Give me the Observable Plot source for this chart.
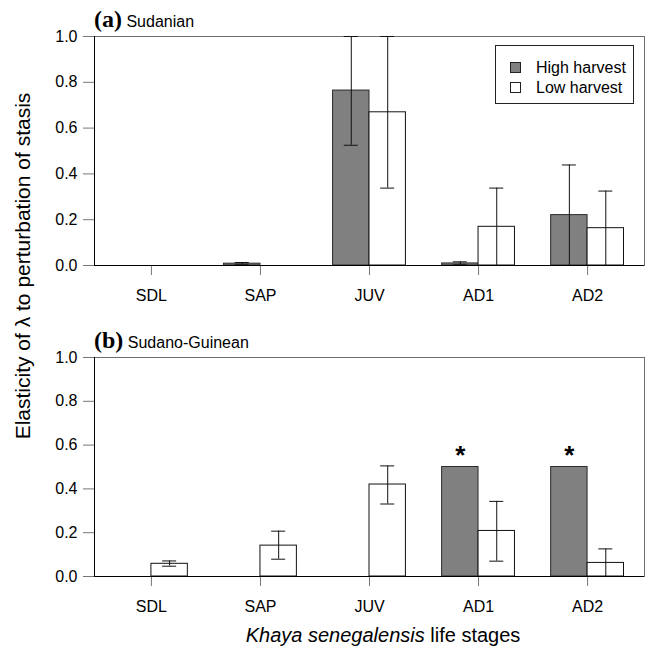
<!DOCTYPE html>
<html>
<head>
<meta charset="utf-8">
<script src="https://cdn.jsdelivr.net/npm/d3@7"></script>
<script src="https://cdn.jsdelivr.net/npm/@observablehq/plot@0.6"></script>
<style>
  html, body { margin: 0; padding: 0; background: white; }
  #root { position: relative; width: 647px; height: 648px; font-family: "Liberation Sans", Arial, sans-serif; color: black; overflow: hidden; }
  .panel { position: absolute; left: 0; }
  .ptitle { position: absolute; left: 94px; white-space: nowrap; line-height: 1; }
  .ptitle b { font-family: "Liberation Serif", "Times New Roman", serif; font-size: 24px; }
  .ptitle span { font-size: 16px; }
  .legend { position: absolute; left: 495px; top: 45px; width: 139px; height: 59px; border: 1px solid #222; background: white; box-sizing: border-box; font-size: 16px; }
  .legend .row { position: absolute; left: 14px; white-space: nowrap; line-height: 1; }
  .legend .sw { display: inline-block; width: 11px; height: 11px; border: 1px solid #222; box-sizing: border-box; margin-right: 15px; vertical-align: 0px; }
  .ylab { position: absolute; white-space: nowrap; font-size: 21px; transform: translate(-50%, -50%) rotate(-90deg); }
  .xlab { position: absolute; white-space: nowrap; font-size: 20px; transform: translateX(-50%); line-height: 1; }
</style>
</head>
<body>
<div id="root"></div>
<script>
// ---- data ----
const stages = ["SDL", "SAP", "JUV", "AD1", "AD2"];
const groups = ["High harvest", "Low harvest"];
const yTicks = [0, 0.2, 0.4, 0.6, 0.8, 1.0];

// (a) Sudanian
const aHigh   = [0, 0.008, 0.764, 0.009, 0.220];
const aHighLo = [null, 0.003, 0.525, 0.003, 0];
const aHighHi = [null, 0.013, 1.0, 0.016, 0.439];
const aLow    = [0, 0, 0.669, 0.169, 0.163];
const aLowLo  = [null, null, 0.338, 0, 0];
const aLowHi  = [null, null, 1.0, 0.338, 0.325];
const aStars  = [];

// (b) Sudano-Guinean
const bHigh   = [0, 0, 0, 0.5, 0.5];
const bHighLo = [null, null, null, null, null];
const bHighHi = [null, null, null, null, null];
const bLow    = [0.058, 0.141, 0.420, 0.208, 0.062];
const bLowLo  = [0.047, 0.079, 0.331, 0.070, 0];
const bLowHi  = [0.071, 0.207, 0.505, 0.343, 0.126];
const bStars  = ["AD1", "AD2"];

// ---- layout ----
const W = 647, ML = 94, MR = 3;
const PI = 0.332, PO = 0.188;
const bw = d3.scaleBand().domain(stages).range([ML, W - MR]).paddingInner(PI).paddingOuter(PO).bandwidth();
const capHalf = 7;

function rows(vals, lo, hi) {
  return stages.map((s, i) => ({stage: s, value: vals[i], lo: lo[i], hi: hi[i]}));
}

function panel({high, highLo, highHi, low, lowLo, lowHi, stars, height, marginTop, marginBottom}) {
  const rH = rows(high, highLo, highHi);
  const rL = rows(low, lowLo, lowHi);
  const eH = rH.filter(d => d.lo != null);
  const eL = rL.filter(d => d.lo != null);
  const sH = rH.filter(d => stars.includes(d.stage));
  return Plot.plot({
    width: W, height, marginTop, marginBottom, marginLeft: ML, marginRight: MR,
    style: {fontFamily: "'Liberation Sans', Arial, sans-serif", fontSize: "16px", color: "black", background: "transparent", overflow: "visible"},
    x: {type: "band", domain: stages, paddingInner: PI, paddingOuter: PO, round: false},
    y: {domain: [0, 1]},
    marks: [
      Plot.frame({stroke: "#6e6e6e"}),
      Plot.barY(rH, {x: "stage", y: "value", fill: "#808080", stroke: "#2a2a2a", insetRight: bw / 2}),
      Plot.barY(rL, {x: "stage", y: "value", fill: "white", stroke: "#111", insetLeft: bw / 2}),
      Plot.ruleX(eH, {x: "stage", y1: "lo", y2: "hi", dx: -bw / 4, stroke: "#111"}),
      Plot.tickY(eH, {x: "stage", y: "lo", insetLeft: bw / 4 - capHalf, insetRight: 3 * bw / 4 - capHalf, stroke: "#111"}),
      Plot.tickY(eH, {x: "stage", y: "hi", insetLeft: bw / 4 - capHalf, insetRight: 3 * bw / 4 - capHalf, stroke: "#111"}),
      Plot.ruleX(eL, {x: "stage", y1: "lo", y2: "hi", dx: bw / 4, stroke: "#111"}),
      Plot.tickY(eL, {x: "stage", y: "lo", insetLeft: 3 * bw / 4 - capHalf, insetRight: bw / 4 - capHalf, stroke: "#111"}),
      Plot.tickY(eL, {x: "stage", y: "hi", insetLeft: 3 * bw / 4 - capHalf, insetRight: bw / 4 - capHalf, stroke: "#111"}),
      Plot.text(sH, {x: "stage", y: "value", text: () => "*", dx: -bw / 4, dy: -11, fontSize: 26, fontWeight: "bold", fill: "black"}),
      Plot.axisX({tickSize: 10, tickPadding: 14, stroke: "#777", fill: "black", label: null}),
      Plot.axisY({ticks: yTicks, tickSize: 11, tickPadding: 6, tickFormat: d3.format(".1f"), stroke: "#777", fill: "black", label: null}),
      Plot.ruleY([0], {stroke: "black"}),
      Plot.frame({anchor: "left", stroke: "black"})
    ]
  });
}

const root = document.getElementById("root");

const pa = panel({high: aHigh, highLo: aHighLo, highHi: aHighHi, low: aLow, lowLo: aLowLo, lowHi: aLowHi, stars: aStars,
  height: 320, marginTop: 36, marginBottom: 55});
pa.classList.add("panel"); pa.style.top = "0px";
root.appendChild(pa);

const pb = panel({high: bHigh, highLo: bHighLo, highHi: bHighHi, low: bLow, lowLo: bLowLo, lowHi: bLowHi, stars: bStars,
  height: 310, marginTop: 37, marginBottom: 54});
pb.classList.add("panel"); pb.style.top = "320px";
root.appendChild(pb);

// panel titles
function title(letter, name, top) {
  const d = document.createElement("div");
  d.className = "ptitle"; d.style.top = top + "px";
  d.innerHTML = `<b>(${letter})</b> <span>${name}</span>`;
  root.appendChild(d);
}
title("a", "Sudanian", 7);
title("b", "Sudano-Guinean", 328);

// legend
const lg = document.createElement("div");
lg.className = "legend";
const fills = ["#808080", "white"];
groups.forEach((g, i) => {
  const r = document.createElement("div");
  r.className = "row"; r.style.top = (14 + i * 20) + "px";
  r.innerHTML = `<span class="sw" style="background:${fills[i]}"></span>${g}`;
  lg.appendChild(r);
});
root.appendChild(lg);

// axis titles
const yl = document.createElement("div");
yl.className = "ylab"; yl.style.left = "23px"; yl.style.top = "266px";
yl.innerHTML = "Elasticity of λ to perturbation of stasis";
root.appendChild(yl);

const xl = document.createElement("div");
xl.className = "xlab"; xl.style.left = "383px"; xl.style.top = "625px";
xl.innerHTML = "<i>Khaya senegalensis</i> life stages";
root.appendChild(xl);
</script>
</body>
</html>
